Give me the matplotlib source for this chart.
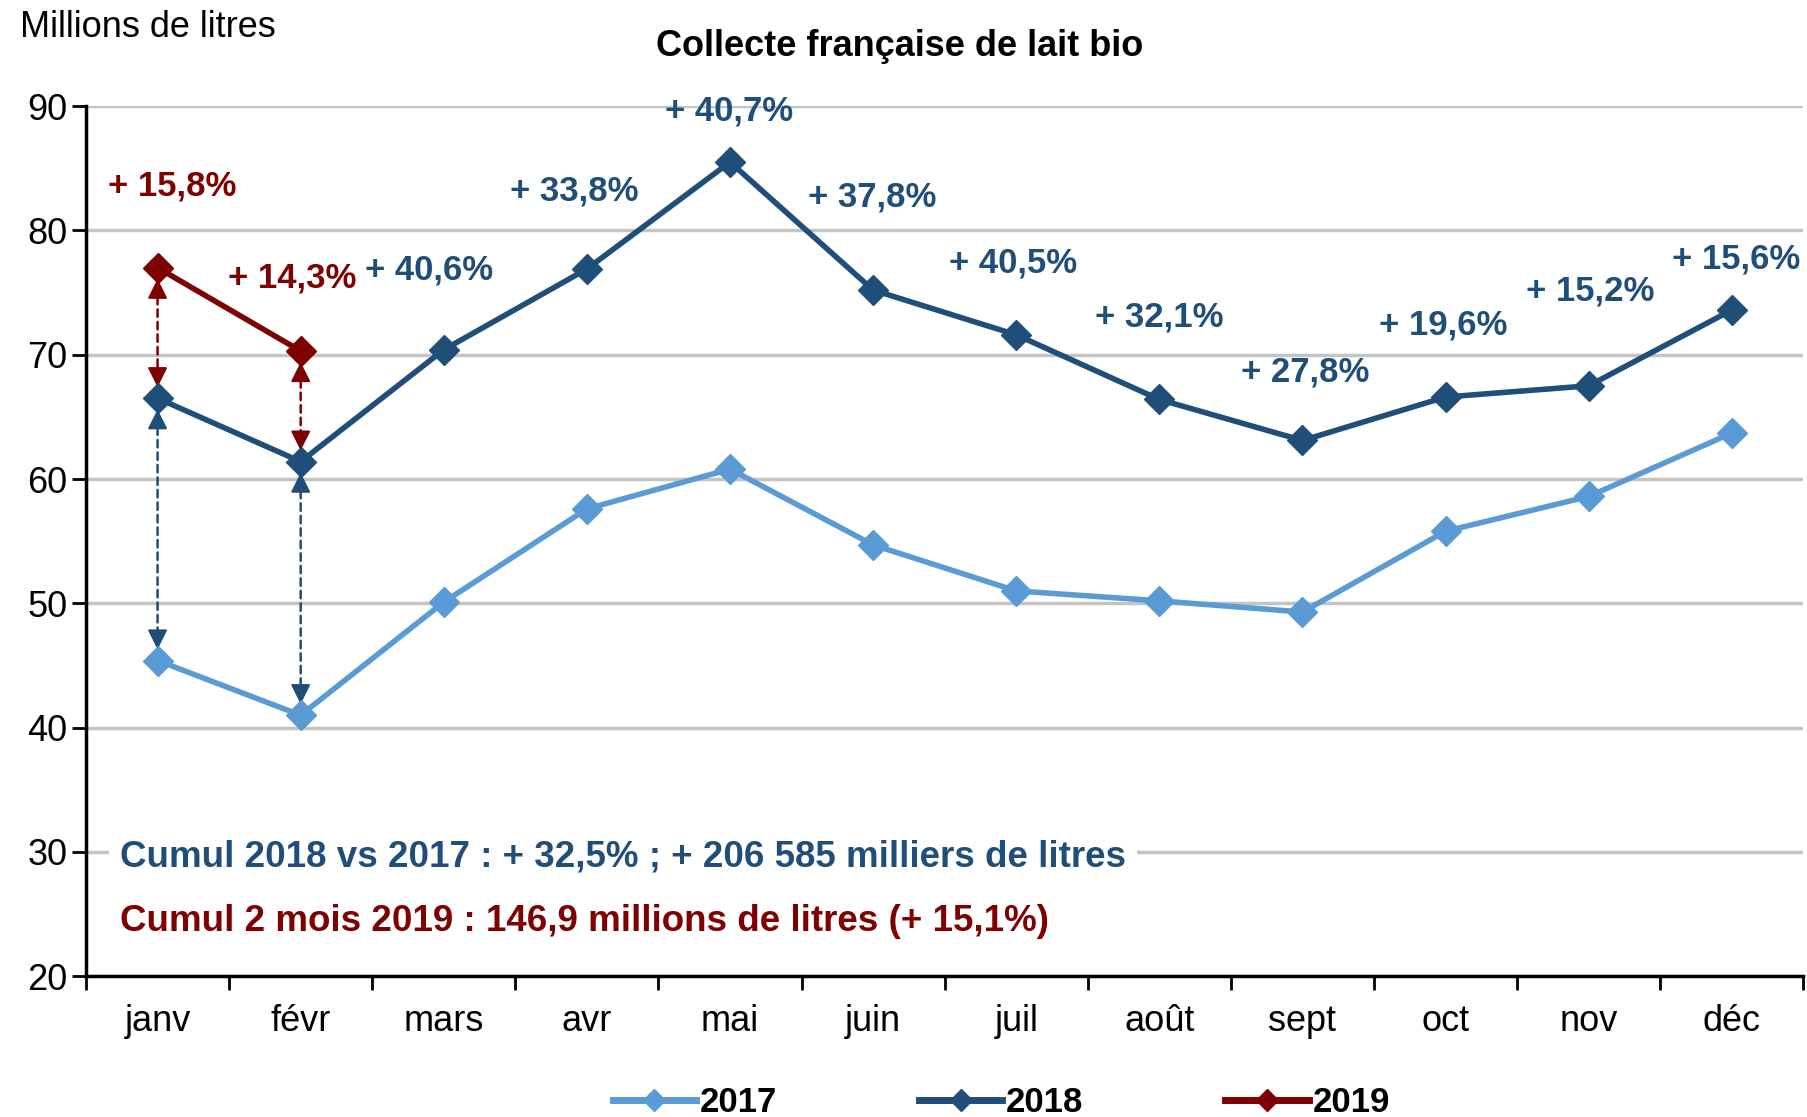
import matplotlib.pyplot as plt
import numpy as np

plt.rcParams['font.family'] = ['Liberation Sans', 'DejaVu Sans']

mois = ["janv", "févr", "mars", "avr", "mai", "juin", "juil", "août", "sept", "oct", "nov", "déc"]
v2017 = [45.4, 41.0, 50.1, 57.6, 60.8, 54.7, 51.0, 50.2, 49.3, 55.8, 58.6, 63.7]
v2018 = [66.5, 61.4, 70.4, 76.9, 85.5, 75.2, 71.6, 66.4, 63.1, 66.6, 67.5, 73.6]
v2019 = [77.0, 70.3]

# evolution labels 2018/2017 (mars -> déc) and 2019/2018
lab2018 = ["+ 40,6%", "+ 33,8%", "+ 40,7%", "+ 37,8%", "+ 40,5%", "+ 32,1%",
           "+ 27,8%", "+ 19,6%", "+ 15,2%", "+ 15,6%"]
pos2018 = [(1.9, 76.8), (2.91, 83.2), (3.99, 89.6), (4.99, 82.7), (5.98, 77.4),
           (7.0, 73.0), (8.02, 68.6), (8.98, 72.4), (10.01, 75.1), (11.03, 77.7)]
lab2019 = ["+ 15,8%", "+ 14,3%"]
pos2019 = [(0.1, 83.6), (0.94, 76.2)]

c17 = "#5B9BD5"
c18 = "#1F4E79"
c19 = "#7F0000"

fig = plt.figure(figsize=(18.07, 11.17), dpi=100)
ax = fig.add_axes([0.0476, 0.126, 0.9504, 0.779])

x = np.arange(12)
ax.plot(x, v2017, color=c17, lw=4, marker="D", ms=15, label="2017", zorder=3)
ax.plot(x, v2018, color=c18, lw=4, marker="D", ms=15, label="2018", zorder=3)
ax.plot(x[:2], v2019, color=c19, lw=4, marker="D", ms=15, label="2019", zorder=4)


def double_arrow(xp, ytop, ybot, col):
    # dashed shaft, solid heads at both ends
    ax.annotate("", xy=(xp, ybot), xytext=(xp, ytop),
                arrowprops=dict(arrowstyle="-", color=col, lw=1.8, ls=(0, (3, 2)),
                                shrinkA=12, shrinkB=12), zorder=2)
    for tip, d in [(ybot, 3.0), (ytop, -3.0)]:
        ax.annotate("", xy=(xp, tip), xytext=(xp, tip + d),
                    arrowprops=dict(arrowstyle="-|>,head_length=0.6,head_width=0.3",
                                    color=col, lw=1.5, shrinkA=9, shrinkB=8,
                                    mutation_scale=20), zorder=2)


for i in range(2):
    double_arrow(i, v2019[i], v2018[i], c19)
    double_arrow(i, v2018[i], v2017[i], c18)

for t, (px, py) in zip(lab2018, pos2018):
    ax.text(px, py, t, color=c18, fontsize=25, fontweight="bold", ha="center", va="center")
for t, (px, py) in zip(lab2019, pos2019):
    ax.text(px, py, t, color=c19, fontsize=25, fontweight="bold", ha="center", va="center")

ax.text(-0.26, 29.6, "Cumul 2018 vs 2017 : + 32,5% ; + 206 585 milliers de litres",
        color=c18, fontsize=26.5, fontweight="bold", ha="left", va="center",
        bbox=dict(facecolor="white", edgecolor="none", pad=8))
ax.text(-0.26, 24.4, "Cumul 2 mois 2019 : 146,9 millions de litres (+ 15,1%)",
        color=c19, fontsize=26.5, fontweight="bold", ha="left", va="center")

ax.set_xlim(-0.5, 11.5)
ax.set_ylim(20, 90)
ax.set_yticks(np.arange(20, 91, 10))
ax.yaxis.grid(True, color="#C4C4C4", lw=2.5)
ax.set_axisbelow(True)
ax.tick_params(axis="y", labelsize=26, length=10, width=2, direction="out")

ax.set_xticks(np.arange(-0.5, 12, 1))
ax.set_xticklabels([])
ax.set_xticks(x, minor=True)
ax.set_xticklabels(mois, minor=True, fontsize=26)
ax.tick_params(axis="x", which="major", length=10, width=2, direction="out")
ax.tick_params(axis="x", which="minor", length=0, pad=20)

for s in ["top", "right"]:
    ax.spines[s].set_visible(False)
ax.spines["left"].set_linewidth(2.5)
ax.spines["bottom"].set_linewidth(2.5)

fig.text(0.011, 0.975, "Millions de litres", fontsize=26, ha="left", va="center")
fig.text(0.498, 0.958, "Collecte française de lait bio", fontsize=26,
         fontweight="bold", ha="center", va="center")

leg = fig.legend(loc="center", bbox_to_anchor=(0.554, 0.013), ncol=3, frameon=False,
                 prop=dict(size=25, weight="bold"), handlelength=2.4, handletextpad=0.1,
                 columnspacing=4.1, markerscale=0.75)
for h in leg.get_lines():
    h.set_linewidth(5)

fig.savefig("out.png", dpi=100)
